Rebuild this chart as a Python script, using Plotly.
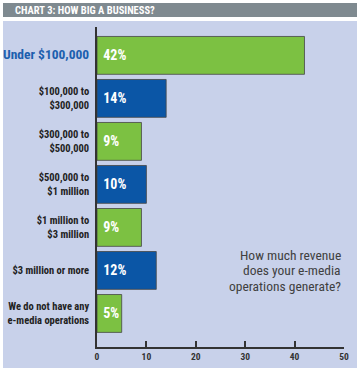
import plotly.graph_objects as go

categories = ["Under $100,000", "$100,000 to<br>$300,000", "$300,000 to<br>$500,000",
              "$500,000 to<br>$1 million", "$1 million to<br>$3 million",
              "$3 million or more", "We do not have any<br>e-media operations"]
values = [42, 14, 9, 10, 9, 12, 5]
bar_labels = ["42%", "14%", "9%", "10%", "9%", "12%", "5%"]
x_ticks = [0, 10, 20, 30, 40, 50]
question_lines = ["How much revenue", "does your e-media", "operations generate?"]

GREEN = "#7cc142"
BLUE = "#0b56a6"
PANEL = "#c8d1ea"
FONT = "Roboto Condensed, sans-serif"

W, H = 360, 372
L, R, T, B = 97, 16, 27, 25
pw, ph = W - L - R, H - T - B

def px(x):
    return (x - L) / pw

def py(y):
    return (H - B - y) / ph

colors = [GREEN if i % 2 == 0 else BLUE for i in range(len(values))]
ypos = list(range(len(categories)))
ticktext = []
for i, c in enumerate(categories):
    if i == 0:
        ticktext.append(f"<span style='color:#1c5fae;font-size:13.5px'>{c}</span>")
    else:
        ticktext.append(c)

fig = go.Figure()
fig.add_trace(go.Bar(
    x=values, y=ypos, orientation="h",
    marker=dict(color=colors, line=dict(color="rgba(70,70,70,0.8)", width=1)),
    width=0.88,
    text=["&nbsp;" + t for t in bar_labels], textposition="inside", insidetextanchor="start",
    constraintext="none", textangle=0,
    textfont=dict(family=FONT, size=14, color="white", weight="bold"),
    hoverinfo="skip",
))

shapes = [
    dict(type="rect", xref="paper", yref="paper", x0=px(3), x1=px(357), y0=py(368), y1=py(21),
         fillcolor=PANEL, line=dict(width=0), layer="below"),
    dict(type="rect", xref="paper", yref="paper", x0=px(3), x1=px(357), y0=py(17), y1=py(3),
         fillcolor="#7f8a90", line=dict(width=0), layer="below"),
]

annotations = [
    dict(text="CHART 3: HOW BIG A BUSINESS?", xref="paper", yref="paper",
         x=px(13), y=py(10.5), xanchor="left", yanchor="middle", showarrow=False,
         font=dict(family=FONT, size=10.5, color="white", weight="bold")),
]
for k, line in enumerate(question_lines):
    annotations.append(dict(text=line, xref="paper", yref="paper",
                            x=px(343), y=py(254.5 + 15.5 * k), xanchor="right", yanchor="middle",
                            showarrow=False,
                            font=dict(family=FONT, size=13.5, color="#404040")))

fig.update_layout(
    width=W, height=H,
    margin=dict(l=L, r=R, t=T, b=B),
    paper_bgcolor="white", plot_bgcolor="rgba(0,0,0,0)",
    showlegend=False, bargap=0.12,
    shapes=shapes, annotations=annotations,
    xaxis=dict(range=[0, 50], tickvals=x_ticks, ticks="inside", ticklen=6, tickwidth=1.5,
               tickcolor="#333", showgrid=False, zeroline=False, showline=True,
               linecolor="#333", linewidth=1.5, automargin=False,
               tickfont=dict(family=FONT, size=9.5, color="#333", weight="bold"),
               fixedrange=True),
    yaxis=dict(range=[6.78, -0.66], tickvals=ypos, ticktext=ticktext, showgrid=False,
               zeroline=False, showline=True, linecolor="#333", linewidth=1.5, ticks="",
               ticklabelstandoff=4, automargin=False,
               tickfont=dict(family=FONT, size=10.5, color="#222", weight="bold"),
               fixedrange=True),
)

fig.write_html("out.html", config={"displayModeBar": False},
               post_script="document.body.style.margin='0';")
